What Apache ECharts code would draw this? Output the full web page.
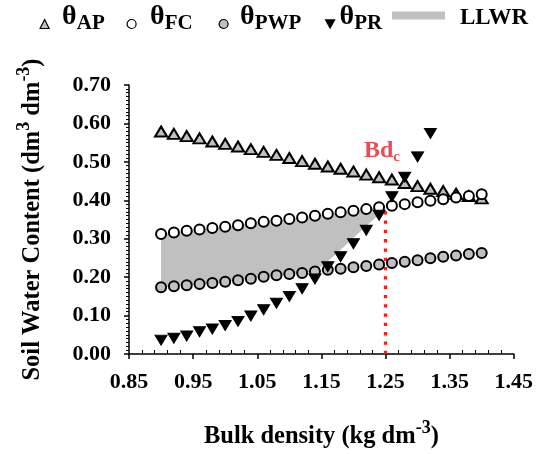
<!DOCTYPE html>
<html>
<head>
<meta charset="utf-8">
<script src="https://cdn.jsdelivr.net/npm/echarts@6/dist/echarts.min.js"></script>
<style>
html,body{margin:0;padding:0;background:#fff;}
#chart{width:536px;height:454px;}
</style>
</head>
<body>
<div id="chart"></div>
<script>
// ---- data ----
var bd = [0.90,0.92,0.94,0.96,0.98,1.00,1.02,1.04,1.06,1.08,1.10,1.12,1.14,1.16,1.18,1.20,1.22,1.24,1.26,1.28,1.30,1.32,1.34,1.36,1.38,1.40];
var thetaAP = [0.579,0.573,0.567,0.561,0.553,0.547,0.540,0.533,0.526,0.518,0.510,0.502,0.495,0.488,0.482,0.475,0.467,0.460,0.454,0.445,0.437,0.430,0.424,0.417,0.411,0.405];
var thetaFC = [0.312,0.316,0.321,0.324,0.328,0.331,0.335,0.340,0.344,0.347,0.351,0.355,0.360,0.365,0.369,0.373,0.377,0.382,0.386,0.390,0.395,0.399,0.403,0.407,0.411,0.416];
var thetaPWP = [0.174,0.176,0.179,0.182,0.185,0.188,0.192,0.196,0.201,0.205,0.208,0.211,0.215,0.219,0.222,0.226,0.229,0.233,0.237,0.240,0.244,0.249,0.253,0.256,0.260,0.263];
var bdPR = [0.90,0.92,0.94,0.96,0.98,1.00,1.02,1.04,1.06,1.08,1.10,1.12,1.14,1.16,1.18,1.20,1.22,1.24,1.26,1.28,1.30,1.32];
var thetaPR = [0.036,0.041,0.047,0.058,0.065,0.074,0.085,0.099,0.115,0.132,0.150,0.170,0.195,0.227,0.253,0.287,0.322,0.361,0.409,0.460,0.513,0.574];
// LLWR shaded band (upper and lower limits)
var llwrBd = [0.90,0.92,0.94,0.96,0.98,1.00,1.02,1.04,1.06,1.08,1.10,1.12,1.14,1.16,1.18,1.20,1.22,1.24,1.246];
var llwrTop = [0.312,0.316,0.321,0.324,0.328,0.331,0.335,0.340,0.344,0.347,0.351,0.355,0.360,0.365,0.369,0.373,0.377,0.382,0.383];
var llwrBottom = [0.174,0.176,0.179,0.182,0.185,0.188,0.192,0.196,0.201,0.205,0.208,0.211,0.215,0.241,0.271,0.302,0.333,0.363,0.383];
// critical bulk density
var bdc = 1.25;
var bdcLineTop = 0.373;
var bdcLabelPos = [1.2445, 0.5256];
// axes
var xMin = 0.85, xMax = 1.45, xStep = 0.1;
var yMin = 0, yMax = 0.70, yStep = 0.1;
var legendNames = ['AP','FC','PWP','PR','LLWR'];

var FONT = 'Liberation Serif';
var GRAY = '#c0c0c0';

function pairs(xs, ys){ return xs.map(function(x,i){ return [x, ys[i]]; }); }

var chart = echarts.init(document.getElementById('chart'), null, {renderer:'canvas'});

function legendRich(padLeft){
  return {
    t:{fontFamily:FONT,fontWeight:'bold',fontSize:28,lineHeight:30,verticalAlign:'top',color:'#000',padding:[0,0,0,padLeft]},
    s:{fontFamily:FONT,fontWeight:'bold',fontSize:21,lineHeight:42,verticalAlign:'middle',color:'#000'}
  };
}
function symLegend(name, left, padLeft, icon){
  return {
    data:[{name:name, icon:icon}],
    left:left, top:3, padding:0,
    itemWidth:9, itemHeight:9,
    itemStyle:{borderWidth:1.2},
    selectedMode:false,
    formatter:function(n){ return '{t|θ}{s|' + n + '}'; },
    textStyle:{rich:legendRich(padLeft)}
  };
}

var nameRich = {
  n:{fontFamily:FONT,fontWeight:'bold',fontSize:24.5,lineHeight:26,verticalAlign:'bottom',color:'#000'},
  p:{fontFamily:FONT,fontWeight:'bold',fontSize:18,lineHeight:18,verticalAlign:'top',color:'#000'},
  g:{lineHeight:30,width:0,fontSize:1}
};

var option = {
  animation:false,
  backgroundColor:'#fff',
  grid:{left:129, right:21.5, top:85, bottom:94, containLabel:false},
  legend:[
    symLegend(legendNames[0], 39.5, 8, 'triangle'),
    symLegend(legendNames[1], 126.5, 9, 'circle'),
    symLegend(legendNames[2], 218.5, 7, 'circle'),
    symLegend(legendNames[3], 325, 0, 'path://M0,0L10,0L5,9Z'),
    {
      data:[{name:legendNames[4], icon:'rect'}],
      left:392, top:1, padding:0,
      itemWidth:53, itemHeight:8, selectedMode:false,
      formatter:function(n){ return '{l|' + n + '}'; },
      textStyle:{rich:{l:{fontFamily:FONT,fontWeight:'bold',fontSize:23,lineHeight:24,padding:[6,0,0,10],color:'#000'}}}
    }
  ],
  xAxis:{
    type:'value', min:xMin, max:xMax, interval:xStep,
    name:'{g| }{n|Bulk density (kg dm}{p|-3}{n|)}',
    nameLocation:'middle', nameGap:65,
    nameTextStyle:{rich:nameRich},
    axisLine:{onZero:false, lineStyle:{color:'#000', width:1.5}},
    axisTick:{show:true, length:5, inside:false, lineStyle:{color:'#000', width:1.5}},
    minorTick:{show:true, splitNumber:5, length:-4, lineStyle:{color:'#000', width:1}},
    splitLine:{show:false},
    axisLabel:{margin:17, fontFamily:FONT, fontWeight:'bold', fontSize:22, color:'#000',
      formatter:function(v){ return v.toFixed(2); }}
  },
  yAxis:{
    type:'value', min:yMin, max:yMax, interval:yStep,
    name:'{g| }{n|Soil Water Content (dm}{p|3}{n| dm}{p|-3}{n|)}',
    nameLocation:'middle', nameRotate:90, nameGap:84,
    nameTextStyle:{rich:nameRich},
    axisLine:{onZero:false, lineStyle:{color:'#000', width:1.5}},
    axisTick:{show:true, length:5, inside:false, lineStyle:{color:'#000', width:1.5}},
    minorTick:{show:true, splitNumber:10, length:3, lineStyle:{color:'#000', width:1}},
    splitLine:{show:false},
    axisLabel:{margin:18, fontFamily:FONT, fontWeight:'bold', fontSize:22, color:'#000',
      formatter:function(v){ return v.toFixed(2); }}
  },
  series:[
    {
      name:legendNames[4], type:'custom', z:1, silent:true,
      itemStyle:{color:GRAY},
      data:[[llwrBd[0], llwrTop[0]]],
      renderItem:function(params, api){
        var pts = [];
        for (var i=0;i<llwrBd.length;i++) pts.push(api.coord([llwrBd[i], llwrTop[i]]));
        for (var j=llwrBd.length-1;j>=0;j--) pts.push(api.coord([llwrBd[j], llwrBottom[j]]));
        return {type:'polygon', shape:{points:pts}, style:{fill:GRAY, stroke:null}};
      }
    },
    {
      name:'bdcLine', type:'line', z:3, symbol:'none', silent:true,
      data:[[bdc, 0], [bdc, bdcLineTop]],
      lineStyle:{color:'#ff1a1a', width:3.3, type:[3.3,6]}
    },
    {
      name:legendNames[0], type:'scatter', z:4, symbol:'triangle', symbolSize:[12,10],
      itemStyle:{color:GRAY, borderColor:'#000', borderWidth:2, opacity:1},
      data:pairs(bd, thetaAP)
    },
    {
      name:legendNames[1], type:'scatter', z:4, symbol:'circle', symbolSize:10,
      itemStyle:{color:'#fff', borderColor:'#000', borderWidth:2, opacity:1},
      data:pairs(bd, thetaFC)
    },
    {
      name:legendNames[2], type:'scatter', z:4, symbol:'circle', symbolSize:10,
      itemStyle:{color:GRAY, borderColor:'#000', borderWidth:2, opacity:1},
      data:pairs(bd, thetaPWP)
    },
    {
      name:legendNames[3], type:'scatter', z:5, symbol:'triangle', symbolRotate:180, symbolSize:[12,10],
      itemStyle:{color:'#000', borderColor:'#000', borderWidth:1, opacity:1},
      data:pairs(bdPR, thetaPR)
    },
    {
      name:'bdcLabel', type:'scatter', z:6, symbolSize:0, silent:true,
      data:[bdcLabelPos],
      label:{show:true, position:'inside',
        formatter:'{b|Bd}{c|c}',
        rich:{
          b:{fontFamily:FONT,fontWeight:'bold',fontSize:24,lineHeight:26,verticalAlign:'top',color:'#ee1c24'},
          c:{fontFamily:FONT,fontWeight:'bold',fontSize:15,lineHeight:15,verticalAlign:'bottom',color:'#ee1c24'}
        }
      }
    }
  ]
};
chart.setOption(option);
</script>
</body>
</html>
